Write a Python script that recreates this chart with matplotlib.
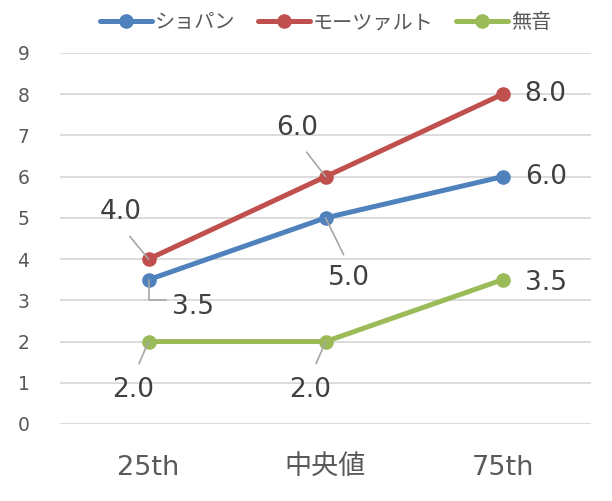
"""Line chart: ショパン / モーツァルト / 無音"""

import matplotlib
matplotlib.use('Agg')
import matplotlib.pyplot as plt

plt.rcParams['font.family'] = ['DejaVu Sans', 'Noto Sans CJK JP']

categories = ['25th', '中央値', '75th']
chopin = [3.5, 5.0, 6.0]
mozart = [4.0, 6.0, 8.0]
silence = [2.0, 2.0, 3.5]
series_names = ['ショパン', 'モーツァルト', '無音']
y_ticks = list(range(0, 10))


def px(dx, dy):
    """pixel offset -> points"""
    return (dx * 0.72, dy * 0.72)


def main():
    """Main fonction"""
    fig = plt.figure(figsize=(6.12, 5.01), dpi=100)
    ax = fig.add_axes([0.098, 0.1537, 0.868, 0.7406])

    colors = ['#4f81bd', '#c0504d', '#9bbb59']
    x = list(range(len(categories)))
    for vals, name, c in zip([chopin, mozart, silence], series_names, colors):
        ax.plot(x, vals, color=c, lw=3.6, marker='o', ms=9.5,
                solid_capstyle='round', label=name, zorder=3)

    ax.set_xlim(-0.5, 2.5)
    ax.set_ylim(0, 9)
    ax.set_yticks(y_ticks)
    ax.set_xticks(x)
    ax.set_xticklabels(categories)
    ax.grid(axis='y', color='#d9d9d9', lw=1.3)
    ax.set_axisbelow(True)
    for s in ax.spines.values():
        s.set_visible(False)
    ax.tick_params(axis='y', length=0, pad=22, labelsize=13.5,
                   labelcolor='#595959')
    ax.tick_params(axis='x', length=0, pad=22, labelsize=19.5,
                   labelcolor='#595959')

    lead = dict(arrowstyle='-', color='#a6a6a6', lw=1.2, shrinkB=0)
    tk = dict(textcoords='offset points', fontsize=19, color='#404040',
              ha='center', va='center', zorder=5)

    # ショパン
    ax.annotate(f'{chopin[0]:.1f}', (x[0], chopin[0]), xytext=px(44, -27),
                arrowprops=dict(lead, relpos=(0, 0.75), shrinkA=2,
                                connectionstyle='angle,angleA=0,angleB=90,rad=0'),
                **tk)
    ax.annotate(f'{chopin[1]:.1f}', (x[1], chopin[1]), xytext=px(23, -60),
                arrowprops=dict(lead, relpos=(0.5, 1), shrinkA=6), **tk)
    ax.annotate(f'{chopin[2]:.1f}', (x[2], chopin[2]), xytext=px(43, 0), **tk)

    # モーツァルト
    ax.annotate(f'{mozart[0]:.1f}', (x[0], mozart[0]), xytext=px(-28, 47),
                arrowprops=dict(lead, relpos=(0.5, 0), shrinkA=8), **tk)
    ax.annotate(f'{mozart[1]:.1f}', (x[1], mozart[1]), xytext=px(-28, 49),
                arrowprops=dict(lead, relpos=(0.5, 0), shrinkA=8), **tk)
    ax.annotate(f'{mozart[2]:.1f}', (x[2], mozart[2]), xytext=px(43, 0), **tk)

    # 無音
    ax.annotate(f'{silence[0]:.1f}', (x[0], silence[0]), xytext=px(-15, -48),
                arrowprops=dict(lead, relpos=(0.5, 1), shrinkA=8), **tk)
    ax.annotate(f'{silence[1]:.1f}', (x[1], silence[1]), xytext=px(-15, -48),
                arrowprops=dict(lead, relpos=(0.5, 1), shrinkA=8), **tk)
    ax.annotate(f'{silence[2]:.1f}', (x[2], silence[2]), xytext=px(43, -3), **tk)

    leg = fig.legend(loc='center', bbox_to_anchor=(0.532, 0.955), ncol=3,
                     frameon=False, fontsize=14.5, handlelength=2.6,
                     handletextpad=0.15, columnspacing=1.1)
    for t in leg.get_texts():
        t.set_color('#595959')

    fig.savefig('out.png', dpi=100)


if __name__ == "__main__":
    main()
